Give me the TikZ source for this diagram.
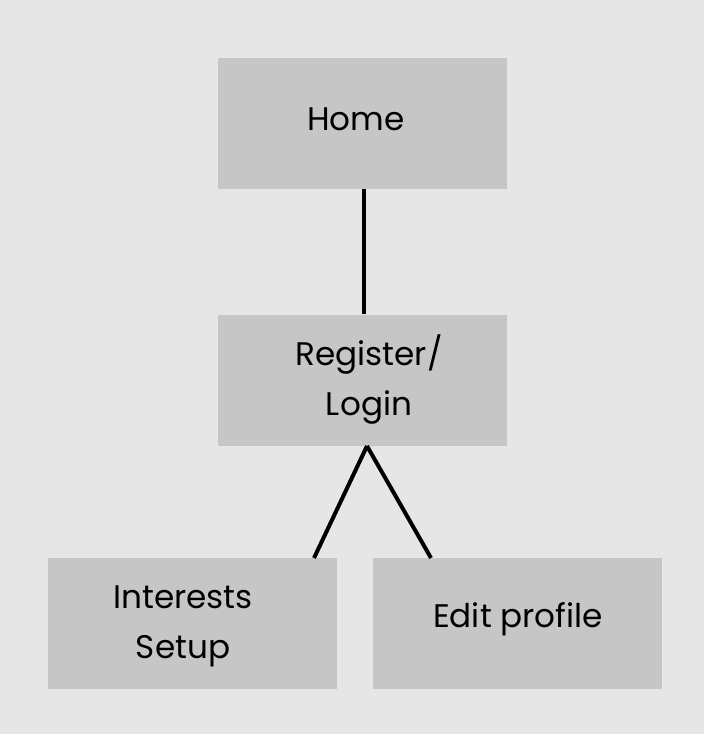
\documentclass[tikz,border=0pt]{standalone}
\usepackage{fontspec}
\setmainfont{Poppins}
\definecolor{bgc}{HTML}{E6E6E6}
\definecolor{boxc}{HTML}{C6C6C6}
\begin{document}
\begin{tikzpicture}[x=0.75pt,y=-0.75pt,
  pagebox/.style={fill=boxc,draw=none,minimum width=289*0.75pt,minimum height=131*0.75pt,inner sep=0pt},
  lbl/.style={font=\fontsize{24.5}{37.5}\selectfont,align=center,inner sep=0pt,text=black},
  link/.style={line width=3pt,black}]
\fill[bgc] (0,0) rectangle (704,734);
\useasboundingbox (0,0) rectangle (704,734);
\node[pagebox] (home) at (362.5,123.5) {};
\node[pagebox] (reg) at (362.5,380) {};
\node[pagebox] (int) at (192.5,623) {};
\node[pagebox] (edit) at (517,623) {};
\node[lbl] (homet) at (356,119) {Home};
\node[lbl] (regt) at (369,380) {Register/\\Login};
\node[lbl] (intt) at (183,626) {Interests\\Setup};
\node[lbl] (editt) at (518,619) {Edit profile};
\coordinate (apex) at (367,446);
\draw[link] ([xshift=1.1pt]home.south) -- ([xshift=1.1pt]reg.north);
\draw[link] (apex) -- (314,558) coordinate (intend);
\draw[link] (apex) -- (431,558) coordinate (editend);
\end{tikzpicture}
\end{document}
